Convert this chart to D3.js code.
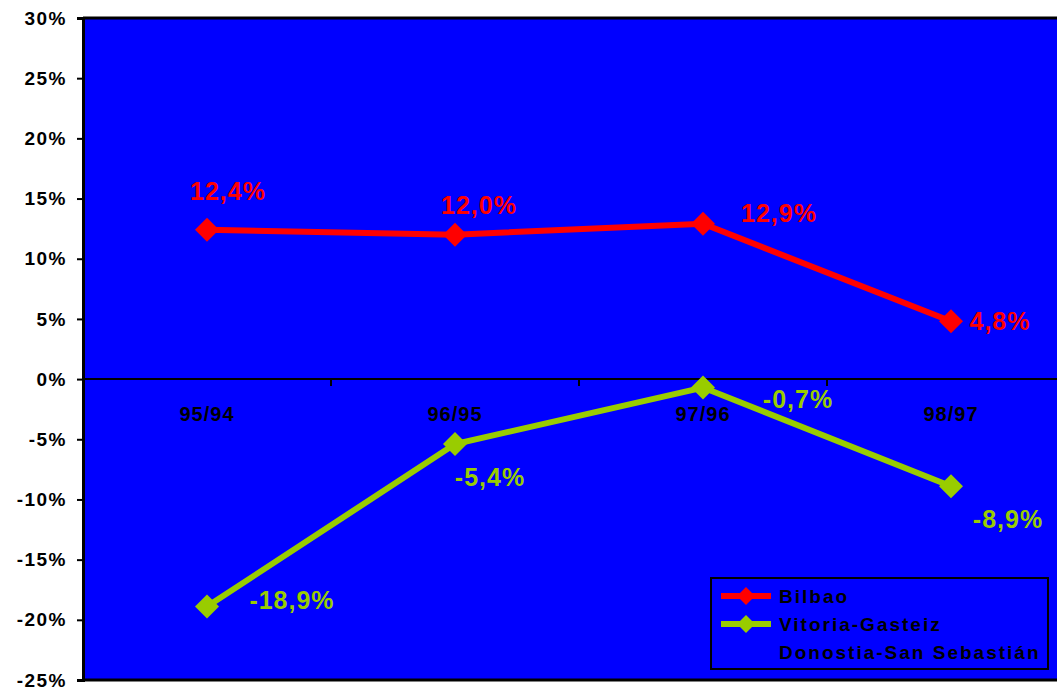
<!DOCTYPE html>
<html>
<head>
<meta charset="utf-8">
<script src="https://cdn.jsdelivr.net/npm/d3@7"></script>
<style>
  body { margin: 0; background: #fff; }
  svg { display: block; font-family: "Liberation Sans", Arial, sans-serif; font-weight: bold; }
</style>
</head>
<body>
<svg id="chart" width="1057" height="687"></svg>
<script>
// data
const categories = ['95/94', '96/95', '97/96', '98/97'];
const bilbao = [12.4, 12.0, 12.9, 4.8];
const vitoria = [-18.9, -5.4, -0.7, -8.9];
const yTicks = [30, 25, 20, 15, 10, 5, 0, -5, -10, -15, -20, -25];
const seriesNames = ['Bilbao', 'Vitoria-Gasteiz', 'Donostia-San Sebastián'];

// label offsets relative to the point (centre of text)
const bilbaoLabelOff = [[21, -39], [24, -30], [76, -11], [49, 0]];
const vitoriaLabelOff = [[85, -7], [35, 33], [95, 11], [57, 33]];

const svg = d3.select('#chart');
const plotLeft = 83, plotRight = 1075, plotTop = 18, plotBottom = 680;

const x = d3.scaleBand().domain(categories).range([plotLeft, plotRight]).padding(0);
const y = d3.scaleLinear().domain([-25, 30]).range([plotBottom, plotTop]);
const cx = c => x(c) + x.bandwidth() / 2;

// plot area
svg.append('rect')
  .attr('x', plotLeft).attr('y', plotTop)
  .attr('width', plotRight - plotLeft).attr('height', plotBottom - plotTop)
  .attr('fill', '#0000ff');

// top/bottom border
svg.append('line').attr('x1', plotLeft).attr('x2', plotRight).attr('y1', plotTop).attr('y2', plotTop)
  .attr('stroke', '#000').attr('stroke-width', 3);
svg.append('line').attr('x1', plotLeft).attr('x2', plotRight).attr('y1', plotBottom).attr('y2', plotBottom)
  .attr('stroke', '#000').attr('stroke-width', 3);

// y axis
const yAxis = svg.append('g').attr('transform', `translate(${plotLeft},0)`)
  .call(d3.axisLeft(y).tickValues(yTicks).tickSize(6).tickPadding(10)
    .tickFormat(d => d + '%'));
yAxis.select('.domain').attr('stroke', '#000').attr('stroke-width', 3);
yAxis.selectAll('.tick line').attr('stroke', '#000').attr('stroke-width', 2);
yAxis.selectAll('.tick text')
  .attr('fill', '#000')
  .style('font-size', '19px')
  .style('letter-spacing', '1.5px')
  .style('font-weight', 'bold')
  .style('font-family', '"Liberation Sans", Arial, sans-serif');

// zero axis with category ticks
svg.append('line').attr('x1', plotLeft).attr('x2', plotRight).attr('y1', y(0)).attr('y2', y(0))
  .attr('stroke', '#000').attr('stroke-width', 2);
svg.selectAll('.cat-tick').data(categories.slice(1)).enter().append('line')
  .attr('x1', d => x(d)).attr('x2', d => x(d))
  .attr('y1', y(0)).attr('y2', y(0) + 7)
  .attr('stroke', '#000').attr('stroke-width', 2);
svg.selectAll('.cat-label').data(categories).enter().append('text')
  .attr('x', d => cx(d)).attr('y', y(0) + 42)
  .attr('text-anchor', 'middle')
  .style('font-size', '20px')
  .style('letter-spacing', '1px')
  .attr('fill', '#000')
  .text(d => d);

function diamond(s) {
  return `M0,${-s}L${s},0L0,${s}L${-s},0Z`;
}

function drawSeries(values, color, offs) {
  const pts = values.map((v, i) => [cx(categories[i]), y(v)]);
  svg.append('path')
    .attr('d', d3.line()(pts))
    .attr('fill', 'none')
    .attr('stroke', color)
    .attr('stroke-width', 6);
  svg.selectAll(null).data(pts).enter().append('path')
    .attr('d', diamond(12))
    .attr('transform', d => `translate(${d[0]},${d[1]})`)
    .attr('fill', color);
  svg.selectAll(null).data(values).enter().append('text')
    .attr('x', (v, i) => pts[i][0] + offs[i][0])
    .attr('y', (v, i) => pts[i][1] + offs[i][1])
    .attr('text-anchor', 'middle')
    .attr('dominant-baseline', 'central')
    .attr('fill', color)
    .style('font-size', '25px')
    .style('letter-spacing', '1px')
    .text(v => v.toFixed(1).replace('.', ',') + '%');
}

drawSeries(bilbao, '#ff0000', bilbaoLabelOff);
drawSeries(vitoria, '#99cc00', vitoriaLabelOff);

// legend
const lg = svg.append('g').attr('transform', 'translate(711,578)');
lg.append('rect').attr('width', 337).attr('height', 91)
  .attr('fill', '#0000ff').attr('stroke', '#000').attr('stroke-width', 2);
const legendColors = ['#ff0000', '#99cc00', null];
seriesNames.forEach((name, i) => {
  const yy = 18 + i * 28;
  if (legendColors[i]) {
    lg.append('line').attr('x1', 10).attr('x2', 60).attr('y1', yy).attr('y2', yy)
      .attr('stroke', legendColors[i]).attr('stroke-width', 6);
    lg.append('path').attr('d', diamond(9))
      .attr('transform', `translate(35,${yy})`).attr('fill', legendColors[i]);
  }
  lg.append('text').attr('x', 68).attr('y', yy + 7)
    .attr('fill', '#000')
    .style('font-size', '19px')
    .style('letter-spacing', '2px')
    .text(name);
});
</script>
</body>
</html>
